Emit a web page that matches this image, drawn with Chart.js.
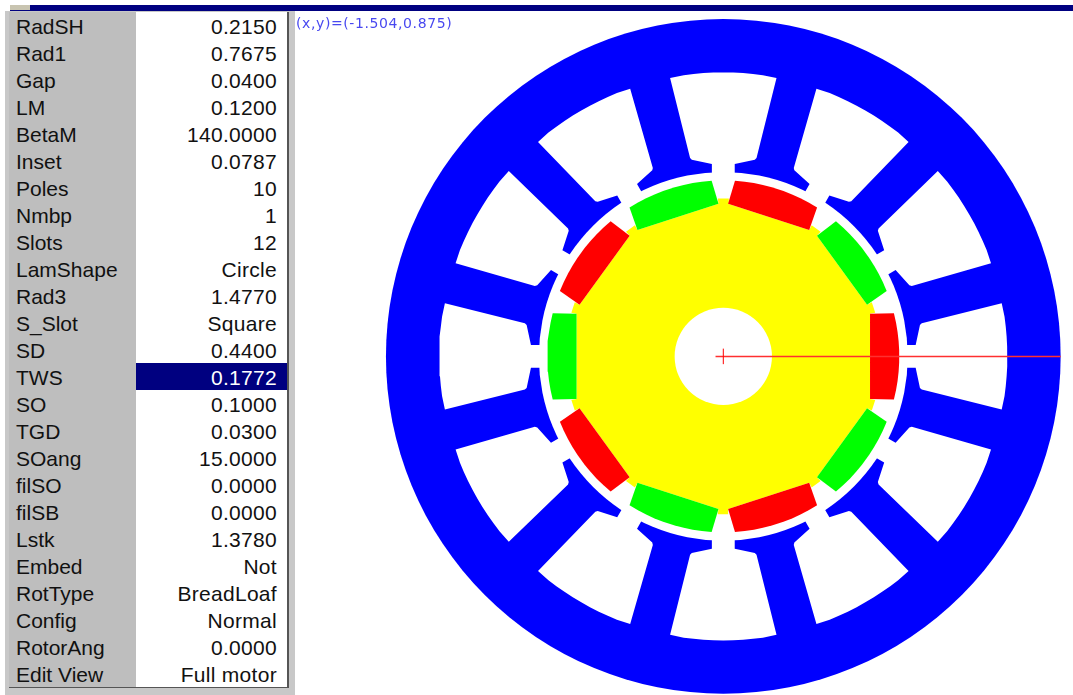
<!DOCTYPE html>
<html lang="en">
<head>
  <meta charset="UTF-8">
  <title>Motor cross section</title>
  <script src="https://cdn.jsdelivr.net/npm/chart.js"></script>
  <style>
    html, body { margin: 0; height: 100%; background: #fff; overflow: hidden; }
    #mychart { position: absolute; left: 0; top: 0; }
    .titlebar { position: absolute; left: 10px; top: 5px; right: 0; height: 6px; background: #000080; }
    .tab { position: absolute; left: 10px; top: 5px; width: 20px; height: 5px; background: #c8c4b0; }
    .frame { position: absolute; left: 5px; top: 11px; width: 290px; height: 684px; background: #c8c8c8; }
    table { position: absolute; left: 9px; top: 12px; width: 278px; border-collapse: collapse; table-layout: fixed;
      font: 21px "Liberation Sans", Arial, sans-serif; color: #111; border-bottom: 1px solid #555; }
    td { height: 27px; padding: 2px 0 0 0; box-sizing: border-box; line-height: 25px; white-space: nowrap; }
    td.name { width: 127px; background: #bebebe; padding-left: 7px; }
    td.val { background: #fff; text-align: right; padding-right: 10px; letter-spacing: 0.3px; }
    td.sel { background: #000080; color: #fff; }
    .rule { position: absolute; left: 287px; top: 12px; width: 2px; height: 676px; background: #555; }
    .coords { position: absolute; left: 296px; top: 15px; font: 14px "DejaVu Sans", sans-serif; color: #4848f0; letter-spacing: 0.6px; }
  </style>
</head>
<body>
  <canvas id="mychart" width="1073" height="695"></canvas>
  <div class="titlebar"></div>
  <div class="tab"></div>
  <div class="frame"></div>
  <table id="params"></table>
  <div class="rule"></div>
  <div class="coords">(x,y)=(-1.504,0.875)</div>
  <script>
    // parameter panel
    const paramNames = ['RadSH', 'Rad1', 'Gap', 'LM', 'BetaM', 'Inset', 'Poles', 'Nmbp', 'Slots', 'LamShape', 'Rad3', 'S_Slot', 'SD', 'TWS', 'SO', 'TGD', 'SOang', 'filSO', 'filSB', 'Lstk', 'Embed', 'RotType', 'Config', 'RotorAng', 'Edit View'];
    const paramValues = ['0.2150', '0.7675', '0.0400', '0.1200', '140.0000', '0.0787', '10', '1', '12', 'Circle', '1.4770', 'Square', '0.4400', '0.1772', '0.1000', '0.0300', '15.0000', '0.0000', '0.0000', '1.3780', 'Not', 'BreadLoaf', 'Normal', '0.0000', 'Full motor'];
    const selectedParam = 'TWS';

    // geometry, [radius, angle in degrees]
    const shaftRadius = 0.213;
    const boreRadius = 0.8075;
    const statorRadius = 1.477;
    const slotProfile = [[0.78, 3.68], [0.8437, 3.4], [0.872, 9.1], [0.881, 9.5], [1.241, 10.82], [1.2435, 8], [1.2435, 6], [1.2435, 4], [1.2435, 2], [1.2435, 0]];
    const slotAngles = [0, 30, 60, 90, 120, 150, 180, 210, 240, 270, 300, 330];
    const magnetProfile = [[0.669, -16.2], [0.669, 16.2], [0.7705, 14.2], [0.7705, 11], [0.7705, 8], [0.7705, 5], [0.7705, 2], [0.7705, -2], [0.7705, -5], [0.7705, -8], [0.7705, -11], [0.7705, -14.2]];
    const magnetAngles = [0, 36, 72, 108, 144, 180, 216, 252, 288, 324];
    const magnetColors = ['#ff0000', '#00ff00', '#ff0000', '#00ff00', '#ff0000', '#00ff00', '#ff0000', '#00ff00', '#ff0000', '#00ff00'];
    const rotorProfile = [[0.669, -16.2], [0.669, 16.2], [0.692, 16], [0.692, 20]];
    const crossArm = [-0.034, 0.034];

    // panel rows
    const table = document.getElementById('params');
    paramNames.forEach((name, i) => {
      const row = table.insertRow();
      const a = row.insertCell();
      a.className = 'name';
      a.textContent = name;
      const b = row.insertCell();
      b.className = name === selectedParam ? 'val sel' : 'val';
      b.textContent = paramValues[i];
    });

    function polar(r, deg) {
      const t = deg * Math.PI / 180;
      return { x: r * Math.cos(t), y: r * Math.sin(t) };
    }

    function shape(points, color) {
      const data = points.concat([points[0]]);
      return { type: 'line', data, backgroundColor: color, fill: 'shape', borderWidth: 0, pointRadius: 0, tension: 0, clip: false };
    }

    // a circle is one point whose radius comes from the x scale
    function disc(radius, color) {
      return {
        type: 'line', data: [{ x: 0, y: 0 }], showLine: false, pointBackgroundColor: color, pointBorderWidth: 0, clip: false,
        pointRadius: ctx => ctx.chart.scales.x.getPixelForValue(radius) - ctx.chart.scales.x.getPixelForValue(0)
      };
    }

    function stroke(data, width, color) {
      return { type: 'line', data, borderColor: color, borderWidth: width, pointRadius: 0, fill: false, clip: false };
    }

    // slot outline is symmetric about its own centre line
    function slotPoints(angle) {
      const upper = slotProfile.map(p => polar(p[0], angle + p[1]));
      const lower = slotProfile.slice(0, -1).reverse().map(p => polar(p[0], angle - p[1]));
      return upper.concat(lower);
    }

    const rotorPoints = [];
    magnetAngles.forEach(angle => rotorProfile.forEach(p => rotorPoints.push(polar(p[0], angle + p[1]))));

    // back to front
    const layers = [disc(statorRadius, '#0000ff')];
    slotAngles.forEach(angle => layers.push(shape(slotPoints(angle), '#ffffff')));
    layers.push(disc(boreRadius, '#ffffff'));
    layers.push(shape(rotorPoints, '#ffff00'));
    magnetAngles.forEach((angle, i) => layers.push(shape(magnetProfile.map(p => polar(p[0], angle + p[1])), magnetColors[i])));
    layers.push(disc(shaftRadius, '#ffffff'));
    layers.push(stroke([{ x: crossArm[0], y: 0 }, { x: statorRadius, y: 0 }], 1.5, '#ff3030'));
    layers.push(stroke([{ x: 0, y: crossArm[0] }, { x: 0, y: crossArm[1] }], 1, '#ff0000'));

    new Chart(document.getElementById('mychart').getContext('2d'), {
      type: 'scatter',
      data: { datasets: layers.reverse() },
      options: {
        responsive: false,
        animation: false,
        events: [],
        layout: { padding: 0, autoPadding: false },
        plugins: { legend: { display: false }, tooltip: { enabled: false } },
        scales: {
          x: { display: false, min: -723.3 / 228.4, max: 349.7 / 228.4 },
          y: { display: false, min: -338.6 / 228.4, max: 356.4 / 228.4 }
        }
      }
    });
  </script>
</body>
</html>
